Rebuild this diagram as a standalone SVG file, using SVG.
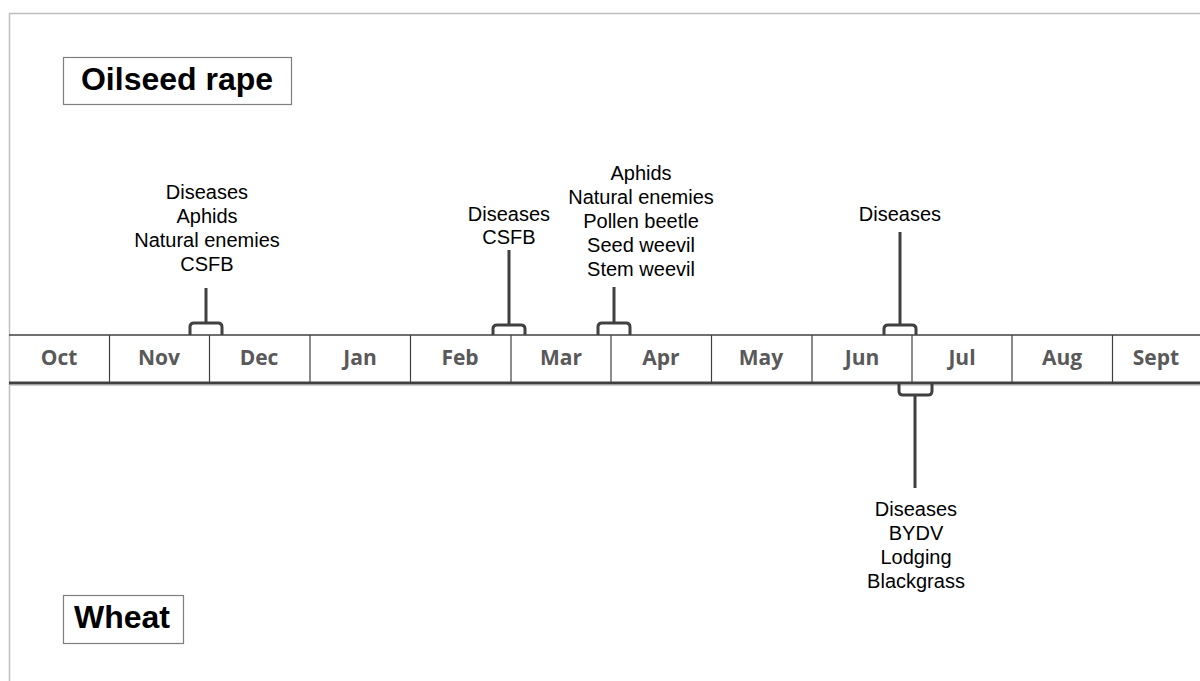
<svg xmlns="http://www.w3.org/2000/svg" width="1200" height="681" viewBox="0 0 1200 681">
<style>
.frame{stroke:#bfbfbf;stroke-width:1.5;fill:none}
.month{font-family:"Open Sans","Liberation Sans",sans-serif;font-weight:700;font-size:21px;fill:#595959;text-anchor:middle}
.lbl{font-family:"Liberation Sans",Arial,sans-serif;font-size:20px;fill:#000;text-anchor:middle}
.title{font-family:"Liberation Sans",Arial,sans-serif;font-size:32px;font-weight:700;fill:#000;text-anchor:middle}
.tbox{fill:#fff;stroke:#7f7f7f;stroke-width:1.2}
.br{fill:none;stroke:#404040;stroke-width:3;stroke-linejoin:round}
</style>
<rect width="1200" height="681" fill="#fff"/>
<path class="frame" d="M9.5,681 V13.5 H1200"/>
<g id="title-osr"><rect class="tbox" x="63.5" y="57.5" width="228" height="47"/><text class="title" x="177" y="90">Oilseed rape</text></g>
<g id="title-wheat"><rect class="tbox" x="63.5" y="595.5" width="120" height="48"/><text class="title" x="122" y="628">Wheat</text></g>
<g id="timeline">
<line x1="9" y1="335" x2="1200" y2="335" stroke="#404040" stroke-width="1.5"/>
<line x1="9" y1="383" x2="1200" y2="383" stroke="#404040" stroke-width="3"/>
<line x1="9" y1="385.5" x2="1200" y2="385.5" stroke="#d0d0d0" stroke-width="1"/>
<g stroke="#404040" stroke-width="1.2">
<line x1="109.5" y1="335" x2="109.5" y2="383"/>
<line x1="209.5" y1="335" x2="209.5" y2="383"/>
<line x1="310" y1="335" x2="310" y2="383"/>
<line x1="410.5" y1="335" x2="410.5" y2="383"/>
<line x1="511" y1="335" x2="511" y2="383"/>
<line x1="611" y1="335" x2="611" y2="383"/>
<line x1="711.5" y1="335" x2="711.5" y2="383"/>
<line x1="812" y1="335" x2="812" y2="383"/>
<line x1="912" y1="335" x2="912" y2="383"/>
<line x1="1012" y1="335" x2="1012" y2="383"/>
<line x1="1112.5" y1="335" x2="1112.5" y2="383"/>
</g>
<text class="month" x="59" y="365">Oct</text>
<text class="month" x="159" y="365">Nov</text>
<text class="month" x="259" y="365">Dec</text>
<text class="month" x="360" y="365">Jan</text>
<text class="month" x="460" y="365">Feb</text>
<text class="month" x="561" y="365">Mar</text>
<text class="month" x="661" y="365">Apr</text>
<text class="month" x="761" y="365">May</text>
<text class="month" x="862" y="365">Jun</text>
<text class="month" x="962" y="365">Jul</text>
<text class="month" x="1062" y="365">Aug</text>
<text class="month" x="1156" y="365">Sept</text>
</g>
<g id="connectors">
<path class="br" d="M190,335 V327 Q190,323 194,323 H218 Q222,323 222,327 V335 M206,323 V288"/>
<path class="br" d="M493,335 V329 Q493,325 497,325 H521 Q525,325 525,329 V335 M509,325 V250"/>
<path class="br" d="M598,335 V327 Q598,323 602,323 H626 Q630,323 630,327 V335 M614,323 V287"/>
<path class="br" d="M884,335 V329 Q884,325 888,325 H912 Q916,325 916,329 V335 M900,325 V232"/>
<path class="br" d="M899,383 V391 Q899,395 903,395 H928 Q932,395 932,391 V383 M915,395 V488"/>
</g>
<g id="note-nov">
<text class="lbl" x="207" y="199">Diseases</text>
<text class="lbl" x="207" y="223">Aphids</text>
<text class="lbl" x="207" y="247">Natural enemies</text>
<text class="lbl" x="207" y="271">CSFB</text>
</g>
<g id="note-feb">
<text class="lbl" x="509" y="221">Diseases</text>
<text class="lbl" x="509" y="244">CSFB</text>
</g>
<g id="note-apr">
<text class="lbl" x="641" y="180">Aphids</text>
<text class="lbl" x="641" y="204">Natural enemies</text>
<text class="lbl" x="641" y="228">Pollen beetle</text>
<text class="lbl" x="641" y="252">Seed weevil</text>
<text class="lbl" x="641" y="276">Stem weevil</text>
</g>
<g id="note-jun">
<text class="lbl" x="900" y="221">Diseases</text>
</g>
<g id="note-wheat">
<text class="lbl" x="916" y="516">Diseases</text>
<text class="lbl" x="916" y="540">BYDV</text>
<text class="lbl" x="916" y="564">Lodging</text>
<text class="lbl" x="916" y="588">Blackgrass</text>
</g>
</svg>
